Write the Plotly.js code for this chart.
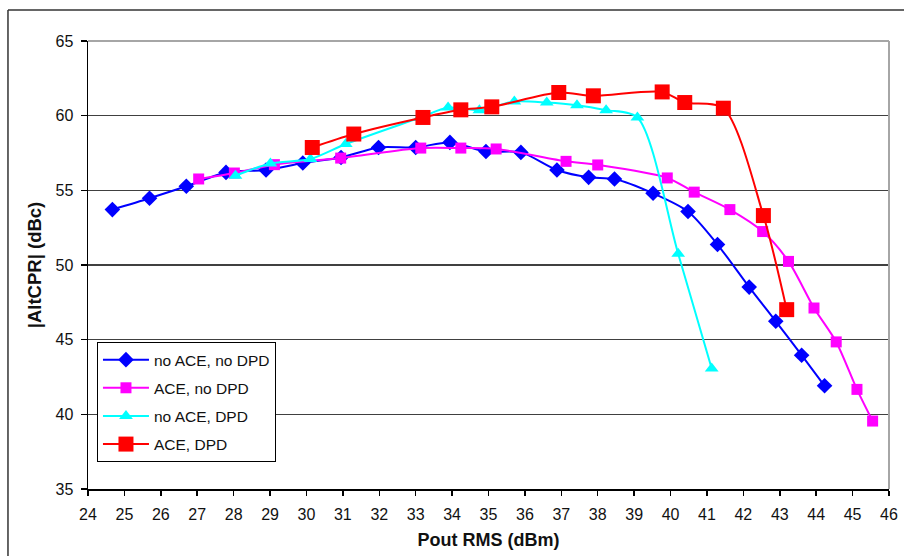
<!DOCTYPE html>
<html>
<head>
<meta charset="utf-8">
<script src="https://cdn.plot.ly/plotly-3.0.1.min.js"></script>
<style>html,body{margin:0;padding:0;background:#fff;}#chart{width:904px;height:556px;}</style>
</head>
<body>
<div id="chart"></div>
<script>
// Series names
const seriesNames = ["no ACE, no DPD", "ACE, no DPD", "no ACE, DPD", "ACE, DPD"];

// no ACE, no DPD
const noAceNoDpdX = [24.67, 25.69, 26.70, 27.79, 28.89, 29.90, 30.95, 31.98, 33.00, 33.94, 34.93, 35.89, 36.88, 37.75, 38.46, 39.52, 40.48, 41.29, 42.16, 42.89, 43.60, 44.23];
const noAceNoDpdY = [53.71, 54.47, 55.27, 56.20, 56.36, 56.83, 57.20, 57.87, 57.87, 58.21, 57.60, 57.54, 56.36, 55.87, 55.76, 54.80, 53.58, 51.37, 48.52, 46.23, 43.96, 41.91];

// ACE, no DPD
const aceNoDpdX = [27.04, 28.02, 29.12, 30.94, 33.14, 34.24, 35.21, 37.13, 38.00, 39.91, 40.65, 41.63, 42.53, 43.24, 43.94, 44.55, 45.12, 45.55];
const aceNoDpdY = [55.76, 56.16, 56.72, 57.16, 57.83, 57.83, 57.77, 56.94, 56.70, 55.83, 54.88, 53.71, 52.24, 50.24, 47.12, 44.85, 41.67, 39.55];

// no ACE, DPD
const noAceDpdX = [28.05, 29.01, 30.11, 31.08, 33.10, 33.89, 34.75, 35.71, 36.60, 37.43, 38.23, 39.09, 40.21, 41.13];
const noAceDpdY = [55.98, 56.80, 57.10, 58.10, 59.85, 60.54, 60.37, 60.95, 60.88, 60.70, 60.37, 59.88, 50.75, 43.07];

// ACE, DPD
const aceDpdX = [30.16, 31.30, 33.20, 34.24, 35.09, 36.93, 37.88, 39.77, 40.39, 41.45, 42.55, 43.19];
const aceDpdY = [57.87, 58.77, 59.88, 60.39, 60.59, 61.55, 61.33, 61.59, 60.88, 60.50, 53.31, 47.01];

const xTickVals = [24,25,26,27,28,29,30,31,32,33,34,35,36,37,38,39,40,41,42,43,44,45,46];
const yTickVals = [35,40,45,50,55,60,65];

function tr(name, x, y, color, symbol, size, group) {
  return {
    type: 'scatter', mode: 'lines+markers', name: name, x: x, y: y,
    legendgroup: group,
    line: {color: color, width: 2, shape: 'spline', smoothing: 0.8},
    marker: {color: color, symbol: symbol, size: size, line: {width: 0}}
  };
}

const data = [
  tr(seriesNames[0], noAceNoDpdX, noAceNoDpdY, '#0000FF', 'diamond', 12, 'a'),
  tr(seriesNames[1], aceNoDpdX, aceNoDpdY, '#FF00FF', 'square', 11, 'b'),
  tr(seriesNames[2], noAceDpdX, noAceDpdY, '#00FFFF', 'triangle-up', 12, 'c'),
  tr(seriesNames[3], aceDpdX, aceDpdY, '#FF0000', 'square', 15, 'd')
];

const FONT = 'Liberation Sans, Arial, sans-serif';

const layout = {
  width: 904, height: 556,
  margin: {l: 88, r: 15, t: 41, b: 67, pad: 0},
  paper_bgcolor: '#ffffff', plot_bgcolor: '#ffffff',
  font: {family: FONT, color: '#111111', size: 15},
  showlegend: true,
  legend: {
    x: 0.0112, y: 0.328, xanchor: 'left', yanchor: 'top',
    bgcolor: '#ffffff', bordercolor: '#000000', borderwidth: 1,
    font: {family: FONT, size: 15.5, color: '#111111'},
    traceorder: 'grouped', tracegroupgap: 5, itemwidth: 46
  },
  xaxis: {
    range: [24, 46], tickmode: 'array', tickvals: xTickVals,
    ticks: 'outside', ticklen: 5, tickwidth: 1.5, tickcolor: '#000',
    showline: true, linecolor: '#000', linewidth: 1.5,
    showgrid: false, zeroline: false,
    tickfont: {family: FONT, size: 16, color: '#111'},
    ticklabelstandoff: 5,
    title: {text: 'Pout RMS (dBm)', font: {family: FONT, size: 18, color: '#111', weight: 'bold'}, standoff: 11}
  },
  yaxis: {
    range: [35, 65], tickmode: 'array', tickvals: yTickVals,
    ticks: 'outside', ticklen: 6, tickwidth: 1.5, tickcolor: '#000',
    showline: true, linecolor: '#000', linewidth: 1.5,
    showgrid: true, gridcolor: '#404040', gridwidth: 1.5, zeroline: false,
    tickfont: {family: FONT, size: 16, color: '#111'},
    ticklabelstandoff: 4,
    title: {text: '|AltCPR| (dBc)', font: {family: FONT, size: 18.5, color: '#111', weight: 'bold'}, standoff: 9}
  },
  shapes: [
    {type: 'line', xref: 'paper', yref: 'paper', x0: 0, x1: 1, y0: 1, y1: 1, line: {color: '#a6a6a6', width: 2}},
    {type: 'line', xref: 'paper', yref: 'paper', x0: 1, x1: 1, y0: 0, y1: 1, line: {color: '#a6a6a6', width: 2}},
    {type: 'line', xref: 'paper', yref: 'paper', x0: -0.0999, x1: -0.0999, y0: 1.0692, y1: -0.16, line: {color: '#333', width: 1.5}},
    {type: 'line', xref: 'paper', yref: 'paper', x0: -0.0999, x1: 1.05, y0: 1.0692, y1: 1.0692, line: {color: '#333', width: 1.5}}
  ]
};

Plotly.newPlot('chart', data, layout, {staticPlot: true, displayModeBar: false});
</script>
</body>
</html>
